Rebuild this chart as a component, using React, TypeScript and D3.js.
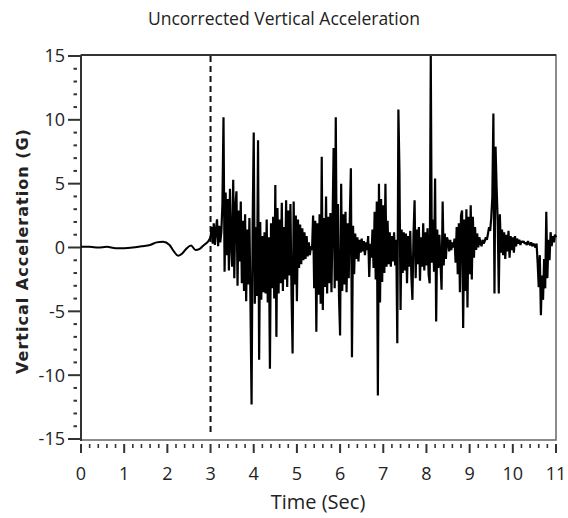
import React, { useEffect, useRef } from 'react';
import * as d3 from 'd3';

// quiet lead-in before the event (seconds, G)
const leadTime = [0, 0.2, 0.4, 0.6, 0.8, 1.0, 1.2, 1.4, 1.6, 1.75, 1.9, 2.05, 2.15, 2.25, 2.35, 2.45, 2.55, 2.65, 2.75, 2.85, 2.95];
const leadG = [0.05, 0.05, 0.0, 0.05, -0.05, -0.05, 0.0, 0.1, 0.2, 0.4, 0.45, 0.2, -0.3, -0.65, -0.45, -0.05, 0.15, -0.2, -0.1, 0.2, 0.5];

// event record, sampled every 0.025 s from 3.0 s
const eventStart = 3.0;
const eventStep = 0.025;
const eventG = [
  0.8, 1.6, 0.3, 1.9, 0.2, 1.4, 2.2, 0.1, 1.7, 0.4,
  1.2, 3.4, 10.2, -1.9, 4.3, -0.6, 3.8, -1.8, 4.6, 0.2,
  -1.5, 5.3, -2.4, 3.2, 4.4, -3.0, 2.9, -1.1, 3.6, -2.8,
  2.1, -3.4, 2.6, -4.2, 1.4, -2.9, 2.3, -4.6, -12.3, 1.8,
  9.0, -4.4, 1.6, -3.8, 8.4, -8.8, 2.0, -4.1, 0.9, -3.5,
  1.2, -3.6, 2.2, -4.3, 0.8, -9.5, 1.9, -3.2, 2.4, -4.0,
  4.9, -7.0, 3.1, -3.6, 2.2, -2.8, 3.5, -3.4, 1.6, -2.5,
  3.7, -3.1, 2.9, -2.2, 3.4, -3.6, -8.3, 3.6, -2.9, 2.5,
  -4.2, 2.2, -1.6, 1.8, -1.3, 1.5, -1.0, 1.2, -0.9, 0.9,
  -0.7, 0.4, -0.6, 0.1, -0.2, 2.5, -3.2, 2.1, -6.6, 1.9,
  -3.7, 2.6, -4.4, 7.1, -4.9, 2.3, -3.1, 4.0, -3.6, 2.4,
  -2.8, 2.7, -3.5, 1.9, 7.8, -3.2, 10.2, -2.6, 3.4, -3.9,
  -6.9, 5.0, -3.4, 2.6, -2.9, 2.8, -3.5, 1.9, -2.4, 2.3,
  6.2, -8.6, 1.7, -2.1, 1.1, -0.9, 0.8, -1.1, 0.6, -0.4,
  0.7, -0.3, 0.5, -0.6, 0.4, -0.2, 0.9, -2.3, 0.3, -0.8,
  1.4, -1.6, 2.8, -2.5, 3.6, -11.6, 5.0, -4.3, 3.8, -2.7,
  3.3, -2.0, 5.0, -1.5, 2.1, -1.3, 1.2, -1.5, 0.9, -1.1,
  1.2, -1.4, 0.6, -7.5, 10.8, 5.9, -4.9, 1.4, -2.0, 1.2,
  -1.8, 1.1, -2.8, 0.9, -1.5, 1.3, -2.2, -4.1, 1.0, 3.7,
  -2.4, 1.4, -1.3, 1.6, -2.6, 0.8, -1.5, 1.9, -1.8, 1.2,
  -1.4, 1.5, -2.1, -2.8, 15.0, -1.2, 2.2, -1.9, 5.4, -5.8,
  1.4, -1.6, 1.0, -1.2, -3.3, 3.6, -1.4, 1.1, -0.9, 0.8,
  0.5, -0.3, 0.6, -0.2, 0.4, 0.0, 0.7, -1.2, 1.6, -2.1,
  1.9, -3.5, 2.5, 2.9, -6.3, 2.2, -3.4, 3.0, -4.7, 2.4,
  -2.1, 3.3, -2.5, 2.4, -0.8, 1.6, -0.2, 1.1, 0.0, 0.8,
  0.4, 0.1, 0.6, 0.3, 0.5, 0.8, 0.6, 1.1, 1.6, 1.3,
  2.3, 3.9, 10.5, -3.6, 7.9, 4.7, 2.1, -3.6, 2.6, -0.4,
  1.4, -0.6, 1.2, -0.9, 1.0, -0.3, 1.3, -0.8, 0.9, -0.2,
  0.8, -0.4, 0.9, 0.1, 0.7, 0.3, 0.6, 0.2, 0.5, 0.4,
  0.5, 0.3, 0.4, 0.2, 0.5, 0.3, 0.2, 0.4, 0.1, 0.3,
  0.2, 0.0, 0.3, -1.2, -3.1, -0.6, -5.3, -2.2, -4.1, -0.9,
  -3.2, 2.8, -2.4, 0.6, -1.0, 1.2, 0.1, 0.9, 0.4, 1.0,
  0.8
];

const xTicks = [0, 1, 2, 3, 4, 5, 6, 7, 8, 9, 10, 11];
const yTicks = [-15, -10, -5, 0, 5, 10, 15];
const triggerTime = 3;

const W = 568;
const H = 518;
const tickFont = '"Open Sans", "Noto Sans", sans-serif';

export default function App() {
  const ref = useRef<SVGSVGElement>(null);

  useEffect(() => {
    const svg = d3.select(ref.current);
    svg.selectAll('*').remove();

    const x = d3.scaleLinear().domain([0, 11]).range([81, 556]);
    const y = d3.scaleLinear().domain([-15, 15]).range([439, 56]);

    // title
    svg.append('text')
      .attr('x', 284).attr('y', 25)
      .attr('text-anchor', 'middle')
      .style('font-family', tickFont).style('font-size', '17.5px').attr('fill', '#222')
      .text('Uncorrected Vertical Acceleration');

    // frame
    svg.append('rect')
      .attr('x', 81).attr('y', 55).attr('width', 475).attr('height', 385)
      .attr('fill', 'none').attr('stroke', '#666').attr('stroke-width', 1.5);
    svg.append('line')
      .attr('x1', 81).attr('x2', 556).attr('y1', 55).attr('y2', 55)
      .attr('stroke', '#333').attr('stroke-width', 2);
    svg.append('line')
      .attr('x1', 81).attr('x2', 81).attr('y1', 55).attr('y2', 441)
      .attr('stroke', '#333').attr('stroke-width', 2);

    // y axis ticks
    const yMinor = d3.range(-15, 15.01, 1).filter(v => v % 5 !== 0);
    svg.append('g').selectAll('line').data(yMinor).join('line')
      .attr('x1', 73.5).attr('x2', 77).attr('y1', d => y(d)).attr('y2', d => y(d))
      .attr('stroke', '#333').attr('stroke-width', 2);
    svg.append('g').selectAll('line').data(yTicks).join('line')
      .attr('x1', 68).attr('x2', 81).attr('y1', d => y(d)).attr('y2', d => y(d))
      .attr('stroke', '#333').attr('stroke-width', 2);
    svg.append('g').selectAll('text').data(yTicks).join('text')
      .attr('x', 65).attr('y', d => y(d)).attr('dy', '0.36em')
      .attr('text-anchor', 'end')
      .style('font-family', tickFont).style('font-size', '18px').attr('fill', '#222')
      .text(d => String(d));

    // x axis ticks
    const xMinor = d3.range(0, 11.01, 0.2).filter(v => Math.abs(v - Math.round(v)) > 0.01);
    svg.append('g').selectAll('line').data(xMinor).join('line')
      .attr('x1', d => x(d)).attr('x2', d => x(d)).attr('y1', 444).attr('y2', 448)
      .attr('stroke', '#333').attr('stroke-width', 1.6);
    svg.append('g').selectAll('line').data(xTicks).join('line')
      .attr('x1', d => x(d)).attr('x2', d => x(d)).attr('y1', 444).attr('y2', 453)
      .attr('stroke', '#333').attr('stroke-width', 2);
    svg.append('g').selectAll('text').data(xTicks).join('text')
      .attr('x', d => x(d)).attr('y', 480)
      .attr('text-anchor', 'middle')
      .style('font-family', tickFont).style('font-size', '18px').attr('fill', '#222')
      .text(d => String(d));

    // axis titles
    svg.append('text')
      .attr('x', 318).attr('y', 509)
      .attr('text-anchor', 'middle')
      .style('font-family', tickFont).style('font-size', '20px').attr('fill', '#222')
      .text('Time (Sec)');
    svg.append('text')
      .attr('transform', 'translate(28,251) rotate(-90)')
      .attr('text-anchor', 'middle')
      .style('font-family', '"DejaVu Sans", Verdana, sans-serif').style('font-size', '16px')
      .style('font-weight', 'bold').style('letter-spacing', '1px').attr('fill', '#222')
      .text('Vertical Acceleration (G)');

    // trigger marker
    svg.append('line')
      .attr('x1', x(triggerTime)).attr('x2', x(triggerTime)).attr('y1', 56).attr('y2', 434)
      .attr('stroke', '#111').attr('stroke-width', 2).attr('stroke-dasharray', '6,4');

    // signal
    const leadPts: [number, number][] = leadTime.map((t, i) => [t, leadG[i]]);
    leadPts.push([eventStart, eventG[0]]);
    const eventPts: [number, number][] = eventG.map((g, i) => [eventStart + i * eventStep, g]);

    const smooth = d3.line<[number, number]>().x(d => x(d[0])).y(d => y(d[1])).curve(d3.curveMonotoneX);
    const raw = d3.line<[number, number]>().x(d => x(d[0])).y(d => y(d[1]));

    svg.append('path').attr('d', smooth(leadPts))
      .attr('fill', 'none').attr('stroke', '#000').attr('stroke-width', 2);
    svg.append('path').attr('d', raw(eventPts))
      .attr('fill', 'none').attr('stroke', '#000').attr('stroke-width', 2.2)
      .attr('stroke-linejoin', 'bevel');
  }, []);

  return (
    <svg ref={ref} width={W} height={H}
      style={{ position: 'absolute', left: 0, top: 0, background: '#fff' }} />
  );
}
